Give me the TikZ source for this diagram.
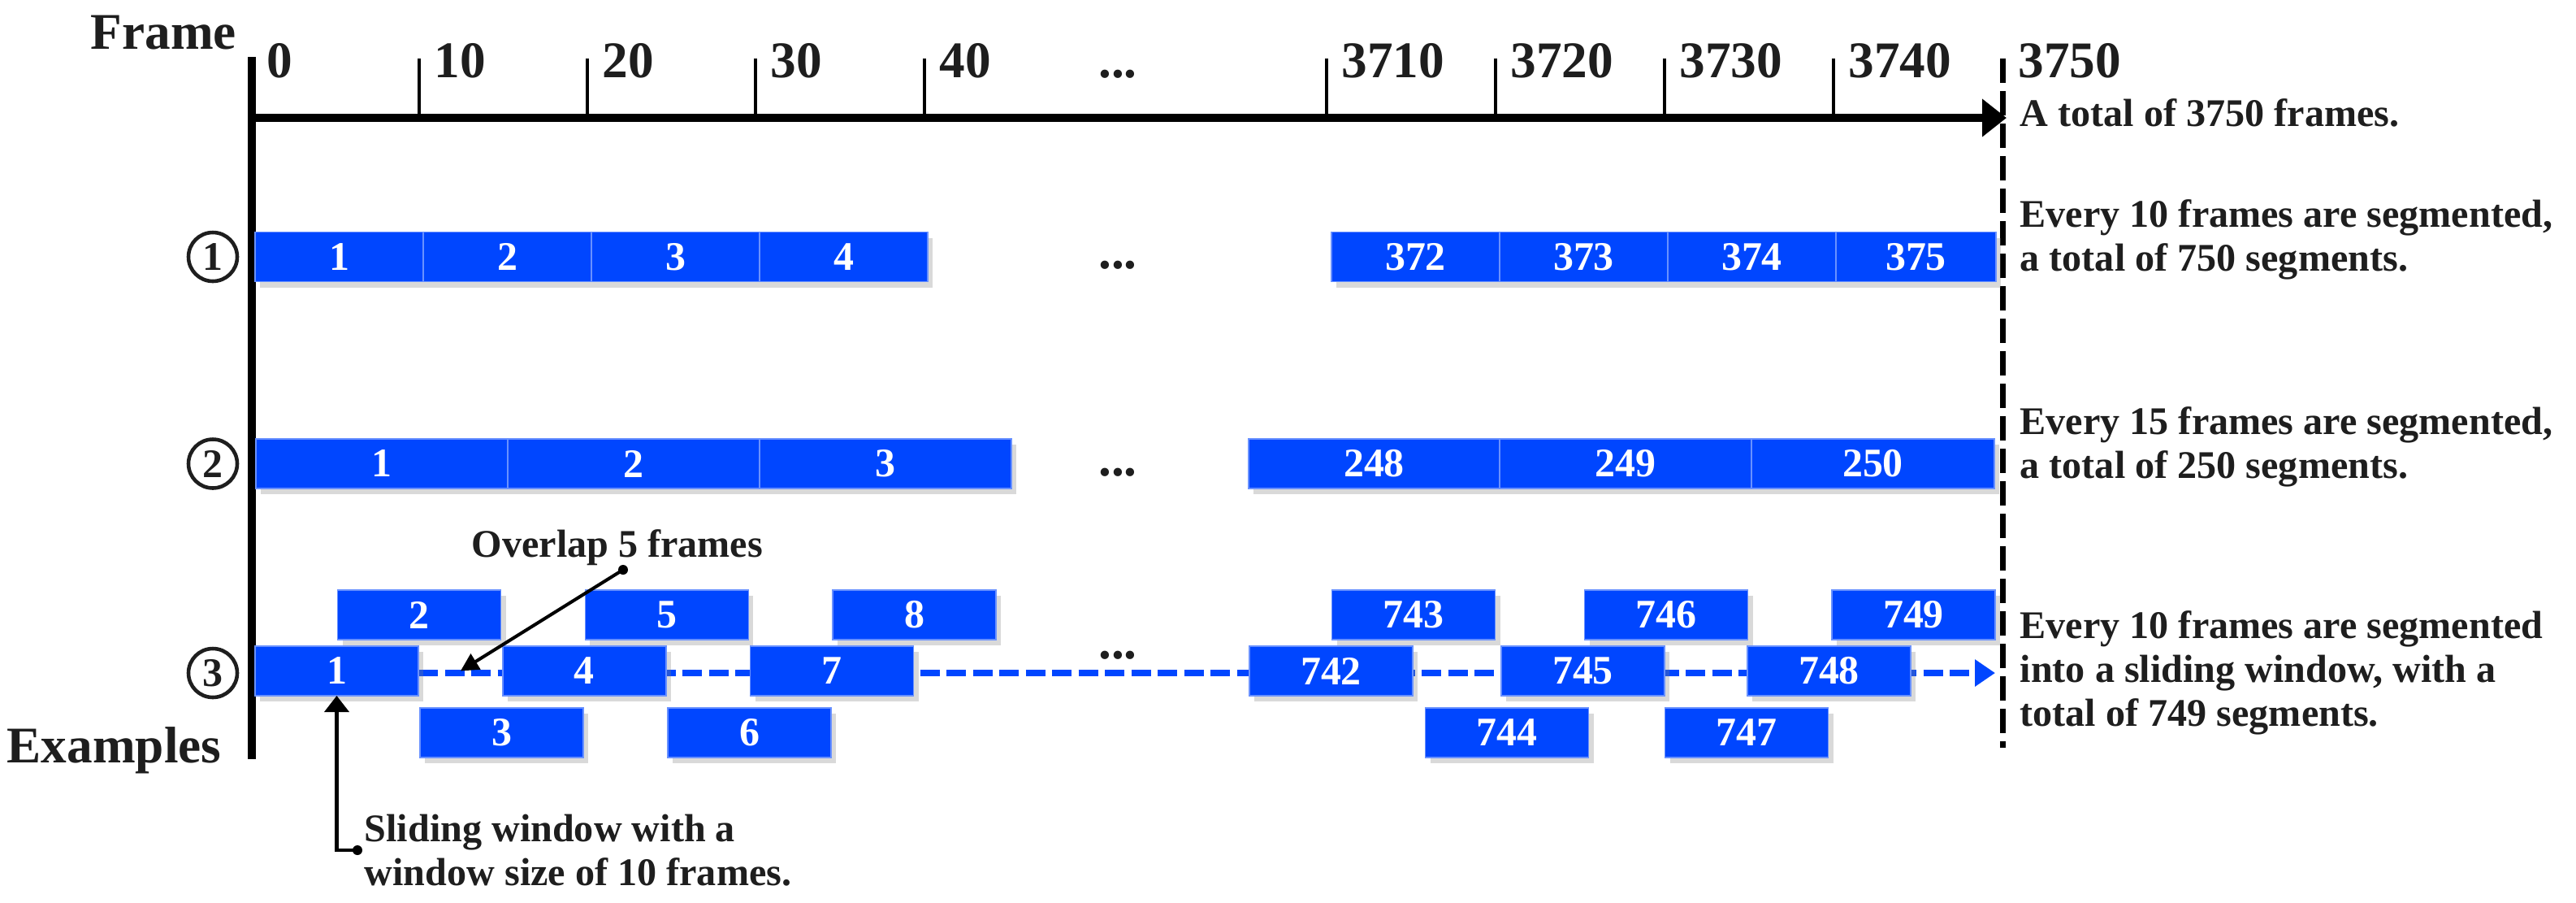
\documentclass[tikz,border=0pt]{standalone}
\usepackage{fontspec}
\setmainfont{Liberation Serif}
\usepackage{tikz}
\usetikzlibrary{arrows.meta, positioning, calc, shadows, backgrounds}
\definecolor{cSeg}{RGB}{0,70,255}
\definecolor{cSegEdge}{RGB}{105,145,255}
\definecolor{cInk}{RGB}{30,30,30}
\tikzset{
	seg/.style      ={rectangle, draw=cSegEdge, line width=0.5pt, fill=cSeg, text=white, font=\fontsize{14.2}{16}\selectfont\bfseries, minimum height=0.61cm, inner sep=0pt, outer sep=0pt, drop shadow={shadow xshift=0.06cm, shadow yshift=-0.07cm, opacity=0.3}},
	segA/.style     ={seg, minimum width=2.07cm},
	segB/.style     ={seg, minimum width=3.10cm},
	segC/.style     ={seg, minimum width=2.01cm},
	ticklbl/.style  ={anchor=base west, inner sep=0pt, font=\fontsize{18}{20}\selectfont\bfseries},
	tickline/.style ={line width=1.3pt},
	note/.style     ={anchor=west, align=left, inner sep=0pt, font=\fontsize{13.7}{15.4}\selectfont\bfseries},
	rownum/.style   ={circle, draw=cInk, line width=1.3pt, minimum size=0.6cm, inner sep=0pt, font=\fontsize{14.2}{14.2}\selectfont\bfseries},
	axisline/.style ={line width=2.6pt},
	callout/.style  ={-{Triangle[length=0.22cm, width=0.22cm]}, line width=1.15pt},
	slidearrow/.style={cSeg, line width=2.3pt, dash pattern=on 0.24cm off 0.085cm, -{Triangle[length=0.25cm, width=0.32cm]}},
}

\begin{document}
\begin{tikzpicture}[text=cInk]
	\useasboundingbox (0,0) rectangle (31.71,-11.10);
	% axes
	\draw[axisline] (3.10,-0.70) -- (3.10,-9.34);
	\draw[axisline, -{Triangle[length=0.3cm, width=0.45cm]}] (3.10,-1.45) -- (24.70,-1.45);
	\draw[line width=2pt, dash pattern=on 0.3cm off 0.1cm] (24.65,-0.72) -- (24.65,-9.20);
	\foreach \x/\lbl [count=\i] in {3.10/0, 5.16/10, 7.23/20, 9.30/30, 11.38/40, 16.33/3710, 18.41/3720, 20.49/3730, 22.57/3740}{
		\draw[tickline] (\x,-0.72) -- (\x,-1.45);
		\node[ticklbl] (t\i) at (\x+0.18,-0.95) {\lbl};
	}
	\node[ticklbl] (t10) at (24.84,-0.95) {3750};
	\node[ticklbl] (frame) at (1.11,-0.60) {Frame};
	\node[ticklbl] (examples) at (0.08,-9.38) {Examples};
	\node[ticklbl, anchor=base] (dots0) at (13.76,-0.95) {...};
	\node[note, anchor=base west] (total) at (24.86,-1.55) {A total of 3750 frames.};

	% 1: every 10 frames
	\node[rownum] (n1) at (2.62,-3.16) {1};
	\node[segA, anchor=west] (a1) at (3.14,-3.16) {1};
	\node[segA, right=0pt of a1] (a2) {2};
	\node[segA, right=0pt of a2] (a3) {3};
	\node[segA, right=0pt of a3] (a4) {4};
	\node[ticklbl, anchor=base] (dots1) at (13.76,-3.30) {...};
	\node[segA, anchor=west] (a372) at (16.39,-3.16) {372};
	\node[segA, right=0pt of a372] (a373) {373};
	\node[segA, right=0pt of a373] (a374) {374};
	\node[segA, right=0pt of a374, minimum width=1.97cm] (a375) {375};
	\node[note] (note1) at (24.86,-2.95) {Every 10 frames are segmented,\\a total of 750 segments.};

	% 2: every 15 frames
	\node[rownum] (n2) at (2.62,-5.705) {2};
	\node[segB, anchor=west] (b1) at (3.15,-5.705) {1};
	\node[segB, right=0pt of b1] (b2) {2};
	\node[segB, right=0pt of b2] (b3) {3};
	\node[ticklbl, anchor=base] (dots2) at (13.76,-5.85) {...};
	\node[segB, anchor=west, minimum width=3.09cm] (b248) at (15.37,-5.705) {248};
	\node[segB, right=0pt of b248] (b249) {249};
	\node[segB, right=0pt of b249, minimum width=2.99cm] (b250) {250};
	\node[note] (note2) at (24.86,-5.50) {Every 15 frames are segmented,\\a total of 250 segments.};

	% 3: sliding window
	\node[rownum] (n3) at (2.62,-8.28) {3};
	\foreach \k/\y in {1/-8.255, 2/-7.565, 3/-9.015, 4/-8.255, 5/-7.565, 6/-9.015, 7/-8.255, 8/-7.565}
		\node[segC] (w\k) at ({4.145+1.016*(\k-1)},\y) {\k};
	\foreach \k/\x/\y in {742/16.385/-8.255, 743/17.40/-7.565, 744/18.55/-9.015, 745/19.485/-8.255, 746/20.51/-7.565, 747/21.50/-9.015, 748/22.515/-8.255, 749/23.555/-7.565}
		\node[segC] (w\k) at (\x,\y) {\k};
	\node[ticklbl, anchor=base] (dots3) at (13.76,-8.10) {...};
	\coordinate (slideEnd) at (24.56,-8.28);
	\begin{scope}[on background layer]
		\draw[slidearrow] (w1.east |- slideEnd) -- (slideEnd);
	\end{scope}
	\node[note] (note3) at (24.86,-8.28) {Every 10 frames are segmented\\into a sliding window, with a\\total of 749 segments.};

	% callouts
	\node[note, anchor=base west] (ovTxt) at (5.80,-6.85) {Overlap 5 frames};
	\coordinate (ovDot) at (7.67,-7.01);
	\coordinate (ovTip) at ($(w1.east)!0.5!(w4.west)$);
	\fill (ovDot) circle (0.06);
	\draw[callout] (ovDot) -- (ovTip);
	\node[note] (slTxt) at (4.48,-10.46) {Sliding window with a\\window size of 10 frames.};
	\coordinate (slDot) at ($(slTxt.west)+(-0.08,0)$);
	\fill (slDot) circle (0.06);
	\draw[callout, {Triangle[length=0.2cm, width=0.3cm]}-] (w1.south) |- (slDot);
\end{tikzpicture}
\end{document}
